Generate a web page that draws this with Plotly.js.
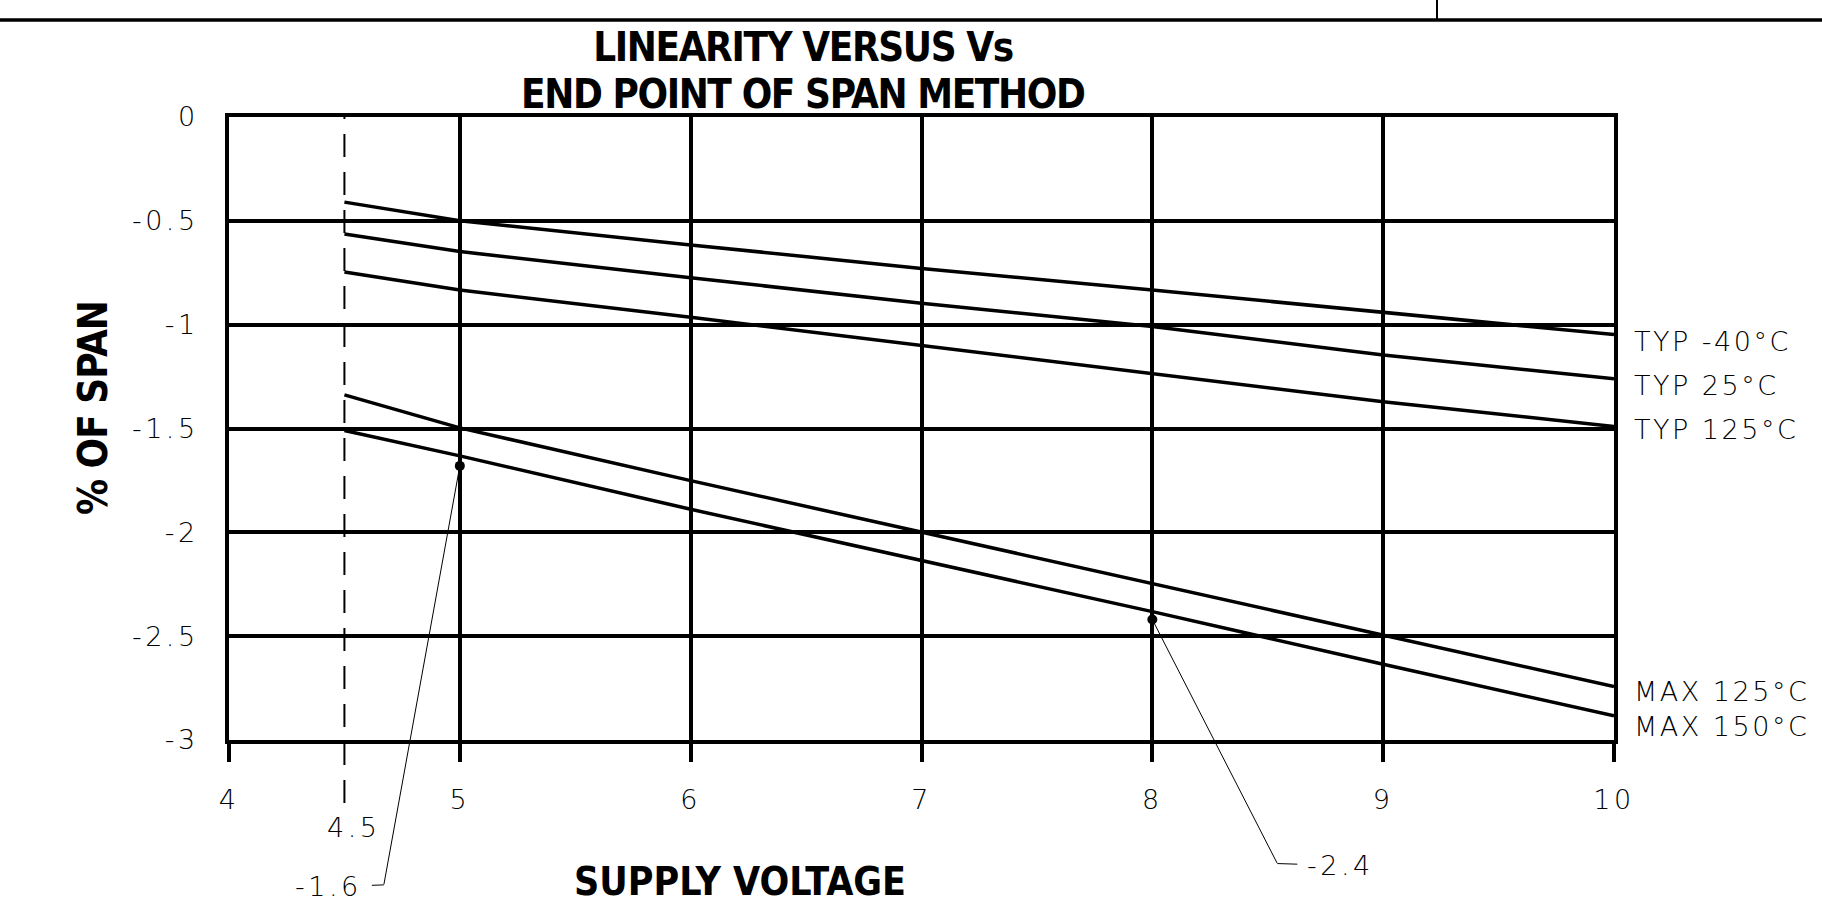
<!DOCTYPE html>
<html><head><meta charset="utf-8">
<script src="https://cdn.plot.ly/plotly-3.0.1.min.js"></script>
<style>html,body{margin:0;padding:0;background:#fff;} #chart{width:1822px;height:910px;}</style>
</head><body><div id="chart"></div>
<script>
// ---- data ----
const supplyVoltage = [4.5, 5, 6, 7, 8, 9, 10];
const typMinus40 = [-0.41, -0.50, -0.616, -0.729, -0.833, -0.942, -1.048];
const typ25      = [-0.563, -0.648, -0.774, -0.897, -1.009, -1.146, -1.26];
const typ125     = [-0.746, -0.833, -0.964, -1.101, -1.234, -1.371, -1.49];
const max125     = [-1.338, -1.497, -1.751, -2.00, -2.245, -2.497, -2.743];
const max150     = [-1.51, -1.632, -1.889, -2.136, -2.382, -2.635, -2.884];
const seriesNames = ['TYP -40°C', 'TYP 25°C', 'TYP 125°C', 'MAX 125°C', 'MAX 150°C'];
const xTickVals = [4, 5, 6, 7, 8, 9, 10];
const xTickText = ['4', '5', '6', '7', '8', '9', '10'];
const yTickVals = [0, -0.5, -1, -1.5, -2, -2.5, -3];
const yTickText = ['0', '-0.5', '-1', '-1.5', '-2', '-2.5', '-3'];
const minSupply = 4.5;
const minSupplyText = '4.5';
const calloutX = [5, 8];
const calloutY = [-1.68, -2.42];
const calloutText = ['-1.6', '-2.4'];
const titleLine1 = 'LINEARITY VERSUS Vs';
const titleLine2 = 'END POINT OF SPAN METHOD';
const xTitle = 'SUPPLY VOLTAGE';
const yTitle = '% OF SPAN';

// ---- styling ----
const BLACK = '#000';
const thinFont = (size) => ({family: 'DejaVu Sans, sans-serif', size: size, color: BLACK, weight: 200});
const boldFont = (size) => ({family: '"Liberation Sans Narrow", "DejaVu Sans Condensed", "Arial Narrow", sans-serif', size: size, color: BLACK, weight: 700});
const spaced = (t, ls) => '<span style="letter-spacing:' + ls + 'px">' + t + '</span>';

const allSeries = [typMinus40, typ25, typ125, max125, max150];
const traces = allSeries.map((ys, i) => ({
  type: 'scatter', mode: 'lines', x: supplyVoltage, y: ys, name: seriesNames[i],
  line: {color: BLACK, width: 3.5}, hoverinfo: 'x+y+name'
}));
traces.push({
  type: 'scatter', mode: 'markers', x: calloutX, y: calloutY, name: 'callouts',
  marker: {color: BLACK, size: 10}, hoverinfo: 'x+y'
});

const L = 229, R = 1614, T = 117, B = 740, W = 1822, H = 910;
const px2paperX = (px) => (px - L) / (R - L);
const px2paperY = (py) => (B - py) / (B - T);

const annotations = [];
// second title line
annotations.push({text: spaced(titleLine2, -1.4), xref: 'paper', yref: 'paper', x: px2paperX(803), y: px2paperY(94),
  xanchor: 'center', yanchor: 'middle', showarrow: false, font: boldFont(40)});
// axis titles
annotations.push({text: xTitle, xref: 'paper', yref: 'paper', x: px2paperX(740), y: px2paperY(881),
  xanchor: 'center', yanchor: 'middle', showarrow: false, font: boldFont(39)});
annotations.push({text: spaced(yTitle, -1), xref: 'paper', yref: 'paper', x: px2paperX(93), y: px2paperY(408),
  xanchor: 'center', yanchor: 'middle', showarrow: false, textangle: -90, font: boldFont(40)});
// series labels at the right end (pixel offsets below each line end)
const labelYShift = [-7, -7, -3, -5, -11];
allSeries.forEach((ys, i) => {
  annotations.push({text: spaced(seriesNames[i], 2.5), xref: 'x', yref: 'y', x: supplyVoltage[supplyVoltage.length - 1],
    y: ys[ys.length - 1], xanchor: 'left', yanchor: 'middle', xshift: 19, yshift: labelYShift[i],
    showarrow: false, font: thinFont(27), borderpad: 0});
});
// 4.5 label under the dashed line
annotations.push({text: spaced(minSupplyText, 3.5), xref: 'x', yref: 'paper', x: minSupply, y: px2paperY(827),
  xanchor: 'center', yanchor: 'middle', xshift: 9, showarrow: false, font: thinFont(27)});
// callouts: leader from the point to an elbow, then a short horizontal to the label
const calloutLeader = [[-76, 419, -55], [125, 244, 63]];
calloutX.forEach((cx, i) => {
  const [dx, dy, lx] = calloutLeader[i];
  annotations.push({text: '', xref: 'x', yref: 'y', x: cx, y: calloutY[i], ax: dx, ay: dy,
    showarrow: true, arrowhead: 0, arrowwidth: 1, arrowcolor: BLACK, standoff: 0, borderpad: 0});
  annotations.push({text: spaced(calloutText[i], 3.5), xref: 'x', yref: 'y', x: cx, y: calloutY[i],
    xshift: dx, yshift: -dy, ax: lx, ay: 2, showarrow: true, arrowhead: 0, arrowwidth: 1,
    arrowcolor: BLACK, standoff: 0, startstandoff: 8, font: thinFont(27)});
});

const shapes = [
  // dashed minimum-supply line
  {type: 'line', xref: 'x', yref: 'paper', x0: minSupply, x1: minSupply, y0: px2paperY(803), y1: 1,
    line: {color: BLACK, width: 2, dash: '23px,15px'}},
  // page frame at top
  {type: 'line', xref: 'paper', yref: 'paper', x0: px2paperX(0), x1: px2paperX(W), y0: px2paperY(20), y1: px2paperY(20),
    line: {color: BLACK, width: 3.5}},
  {type: 'line', xref: 'paper', yref: 'paper', x0: px2paperX(1437), x1: px2paperX(1437), y0: px2paperY(0), y1: px2paperY(20),
    line: {color: BLACK, width: 2}}
];

const layout = {
  width: W, height: H,
  margin: {l: L, r: W - R, t: T, b: H - B, pad: 0},
  paper_bgcolor: '#fff', plot_bgcolor: '#fff',
  showlegend: false,
  title: {text: spaced(titleLine1, -1.4), font: boldFont(40), x: 803 / W, xref: 'container', xanchor: 'center',
    y: 1 - 47 / H, yref: 'container', yanchor: 'middle'},
  xaxis: {range: [4, 10], tickvals: xTickVals, ticktext: xTickText.map(t => spaced(t, 3.5)),
    showgrid: true, gridcolor: BLACK, gridwidth: 3.5, zeroline: false,
    showline: true, mirror: true, linecolor: BLACK, linewidth: 4,
    ticks: 'outside', ticklen: 18, tickwidth: 4, tickcolor: BLACK, ticklabelstandoff: 15,
    tickfont: thinFont(27), fixedrange: true},
  yaxis: {range: [-3, 0], tickvals: yTickVals, ticktext: yTickText.map(t => spaced(t, 3.5)),
    showgrid: true, gridcolor: BLACK, gridwidth: 3.5, zeroline: false,
    showline: true, mirror: true, linecolor: BLACK, linewidth: 4,
    ticks: '', ticklabelstandoff: 21, tickfont: thinFont(27), fixedrange: true},
  annotations: annotations,
  shapes: shapes
};

Plotly.newPlot('chart', traces, layout, {displayModeBar: false, staticPlot: false});
</script>
</body></html>
